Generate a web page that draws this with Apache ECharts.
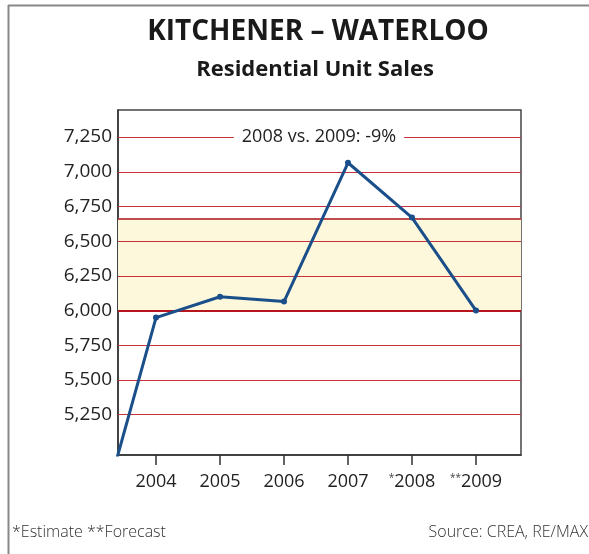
<!DOCTYPE html>
<html>
<head>
<meta charset="utf-8">
<script src="https://cdn.jsdelivr.net/npm/echarts@6/dist/echarts.min.js"></script>
<style>
  html, body { margin: 0; padding: 0; background: #fff; }
  #chart { width: 589px; height: 554px; }
</style>
</head>
<body>
<div id="chart"></div>
<script>
// data
const years = [2003, 2004, 2005, 2006, 2007, 2008, 2009]
const sales = [4290, 5950, 6100, 6065, 7065, 6670, 6000]
const yearLabels = { 2004: '2004', 2005: '2005', 2006: '2006', 2007: '2007', 2008: '{sup|*}2008', 2009: '{sup|**}2009' }
const labelYears = [2004, 2005, 2006, 2007, 2008, 2009]
const yTicks = [5250, 5500, 5750, 6000, 6250, 6500, 6750, 7000, 7250]
const band = [6000, 6665]

const font = '"Open Sans", Lato, sans-serif'
const chart = echarts.init(document.getElementById('chart'))

chart.setOption({
  animation: false,
  grid: {
    left: 118, right: 68, top: 110, bottom: 99,
    show: true, borderColor: '#444', borderWidth: 1.5, backgroundColor: 'transparent'
  },
  xAxis: {
    type: 'value',
    min: 2003.406,
    max: 2009.703,
    splitLine: { show: false },
    axisLine: { lineStyle: { color: '#333', width: 1.5 } },
    axisTick: { show: true, customValues: labelYears, length: 10, inside: false, lineStyle: { color: '#333', width: 1.5 } },
    axisLabel: {
      customValues: labelYears,
      margin: 18,
      fontFamily: font, fontSize: 18, color: '#222',
      formatter: v => yearLabels[v] || '',
      rich: { sup: { fontFamily: font, fontSize: 10, color: '#444', verticalAlign: 'top', padding: [0, 0, 8, 0] } }
    }
  },
  yAxis: {
    type: 'value',
    min: 4960,
    max: 7445,
    splitLine: { show: false },
    axisLine: { show: true, lineStyle: { color: '#333', width: 1.5 } },
    axisTick: { show: false },
    axisLabel: {
      customValues: yTicks,
      margin: 6,
      fontFamily: font, fontSize: 19, color: '#222',
      formatter: v => v.toLocaleString('en-US')
    }
  },
  graphic: [
    { type: 'line', shape: { x1: 8.5, y1: 5, x2: 8.5, y2: 554 }, style: { stroke: '#888', lineWidth: 2 } },
    { type: 'line', shape: { x1: 8, y1: 5.5, x2: 589, y2: 5.5 }, style: { stroke: '#888', lineWidth: 2 } },
    { type: 'text', x: 318, y: 32, z: 100, style: { text: 'KITCHENER – WATERLOO', fontFamily: font, fontWeight: 'bold', fontSize: 28, fill: '#1a1a1a', align: 'center', verticalAlign: 'middle' } },
    { type: 'text', x: 315, y: 70, z: 100, style: { text: 'Residential Unit Sales', fontFamily: font, fontWeight: 'bold', fontSize: 22, fill: '#1a1a1a', align: 'center', verticalAlign: 'middle' } },
    { type: 'text', x: 319, y: 137, z: 100, style: { text: '2008 vs. 2009: -9%', fontFamily: font, fontSize: 18, fill: '#222', align: 'center', verticalAlign: 'middle', backgroundColor: '#fff', padding: [2, 8] } },
    { type: 'text', x: 12, y: 532, z: 100, style: { text: '*Estimate **Forecast', fontFamily: font, fontWeight: 300, fontSize: 16, fill: '#333', verticalAlign: 'middle' } },
    { type: 'text', x: 588, y: 532, z: 100, style: { text: 'Source: CREA, RE/MAX', fontFamily: font, fontWeight: 300, fontSize: 16, fill: '#333', align: 'right', verticalAlign: 'middle' } }
  ],
  series: [
    {
      type: 'line',
      data: years.map((y, i) => ({ value: [y, sales[i]], symbol: i === 0 ? 'none' : 'circle' })),
      clip: true,
      symbolSize: 6,
      lineStyle: { color: '#1a4f8a', width: 3 },
      itemStyle: { color: '#1a4f8a' },
      z: 5,
      markArea: {
        silent: true,
        itemStyle: { color: '#fdf8dc' },
        data: [[{ yAxis: band[0] }, { yAxis: band[1] }]]
      },
      markLine: {
        silent: true,
        symbol: 'none',
        label: { show: false },
        lineStyle: { color: '#c8303c', width: 1.2, type: 'solid' },
        data: yTicks.map(v => ({ yAxis: v }))
          .concat([{ yAxis: band[1], lineStyle: { color: '#a8141e', width: 1.5 } },
                   { yAxis: band[0], lineStyle: { color: '#b8141e', width: 2 } }])
      }
    }
  ]
})
</script>
</body>
</html>
